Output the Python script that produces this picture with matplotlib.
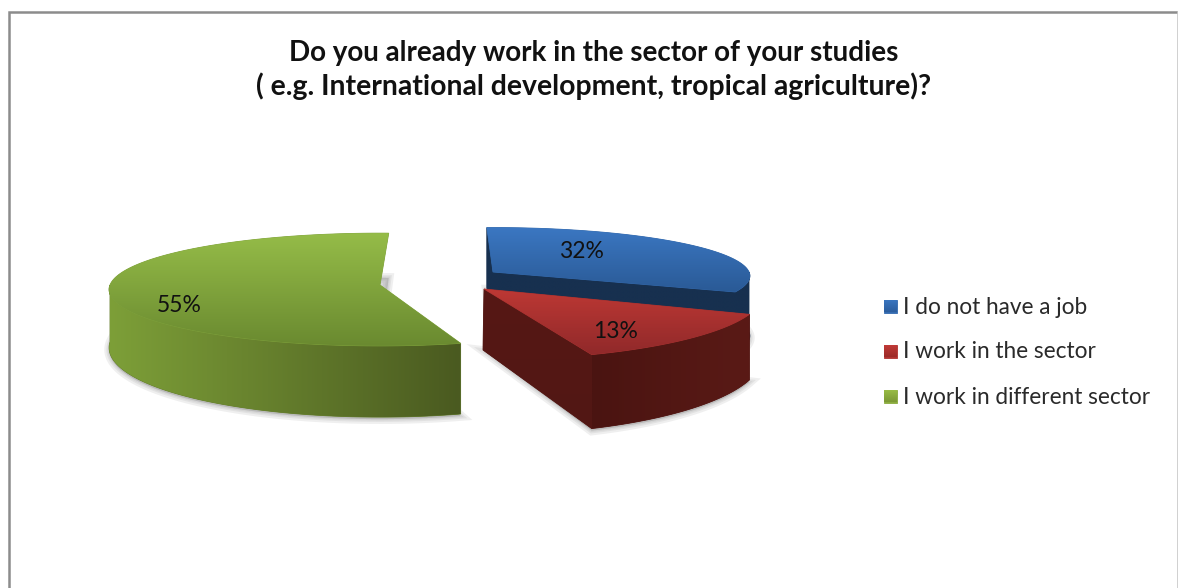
import numpy as np
import matplotlib
matplotlib.use('Agg')
import matplotlib.pyplot as plt
from matplotlib.colors import LinearSegmentedColormap, to_rgb
from matplotlib.patches import Polygon

title_lines = ['Do you already work in the sector of your studies',
               '( e.g. International development, tropical agriculture)?']
categories = ['I do not have a job', 'I work in the sector', 'I work in different sector']
values = [32, 13, 55]

plt.rcParams['font.family'] = ['Lato', 'DejaVu Sans']

# pie drawing settings, one entry per slice
apex = [(493, 272), (484, 289), (380, 285)]
spin = [-1.5, -3, 2]
rx = [256, 278, 270]
ry = [48, 65, 56]
depth = [60, 60, 57]
flare = [0.0, 0.25, 0.25]
perspective = 0.08

top_colors = [('#3b77c2', '#2a5a96'), ('#bd3834', '#90292a'), ('#95bc48', '#6a8a30')]
wall_colors = [('#17304f', '#17304f'), ('#4a1411', '#5a1a16'), ('#7d9f38', '#4a5a20')]
swatch_colors = [('#3b77c2', '#2c5e9e'), ('#c43b38', '#9c2b29'), ('#9bbf46', '#7b9835')]
label_pos = [(581, 252), (616, 331), (179, 305)]
legend_y = [307, 352, 397]

fig = plt.figure(figsize=(11.78, 5.88), dpi=100)
ax = fig.add_axes([0, 0, 1, 1])


def rim(i, a0, a1):
    t = np.radians(np.linspace(a0, a1, 160))
    s = 1 / (1 + perspective * np.cos(t))
    x = apex[i][0] + rx[i] * np.sin(t) * s
    y = apex[i][1] - ry[i] * np.cos(t) * s
    low = y + depth[i] * (1 - flare[i] * np.cos(t))
    return x, y, low


def fill(points, colors, zorder, vertical=True):
    points = np.asarray(points)
    # solid base closes the hairline seams between neighbouring faces
    base = np.mean([to_rgb(c) for c in colors], axis=0)
    ax.add_patch(Polygon(points, closed=True, fc=base, ec=base, lw=0.6, zorder=zorder))
    poly = Polygon(points, closed=True, fc='none', ec='none', zorder=zorder)
    ax.add_patch(poly)
    cmap = LinearSegmentedColormap.from_list('ramp', colors)
    ramp = np.linspace(0, 1, 128)
    ramp = ramp.reshape(-1, 1) if vertical else ramp.reshape(1, -1)
    x0, x1 = points[:, 0].min(), points[:, 0].max()
    y0, y1 = points[:, 1].min(), points[:, 1].max()
    im = ax.imshow(ramp, extent=[x0, x1, y1, y0], cmap=cmap, aspect='auto',
                   interpolation='bilinear', zorder=zorder)
    im.set_clip_path(poly)


# slice angles run clockwise from 12 o'clock
sweeps = np.array(values) / sum(values) * 360
starts = np.concatenate([[0], np.cumsum(sweeps)[:-1]])

# soft shadow under each slice
for i in [2, 0, 1]:
    a0 = starts[i] + spin[i]
    a1 = a0 + sweeps[i]
    x, y, low = rim(i, a0, a1)
    foot = np.column_stack([np.r_[apex[i][0], x], np.r_[apex[i][1] + depth[i], low] + 2])
    for lw in (7, 4, 2):
        ax.add_patch(Polygon(foot, closed=True, fc='#808080', ec='#808080', lw=lw,
                             alpha=0.12, zorder=1))

# draw order is back to front: green, blue, red
z = 2
for i in [2, 0, 1]:
    a0 = starts[i] + spin[i]
    a1 = a0 + sweeps[i]
    x, y, low = rim(i, a0, a1)
    ax_, ay_ = apex[i]
    d = depth[i]

    # only the front half of the outer wall can be seen
    xw, yw, lw_ = rim(i, max(a0, 90), min(a1, 270))
    wall = np.column_stack([np.r_[xw, xw[::-1]], np.r_[yw, lw_[::-1]]])
    fill(wall, wall_colors[i], z, vertical=False)
    z += 1

    if i == 0:
        # blue shows both cut faces
        for k in (0, -1):
            cut = [(ax_, ay_), (x[k], y[k]), (x[k], low[k]), (ax_, ay_ + d)]
            fill(cut, wall_colors[i], z)
            z += 1
    if i == 1:
        cut = [(ax_, ay_), (x[-1], y[-1]), (x[-1], low[-1]), (ax_ - 1, ay_ + d + 1)]
        fill(cut, ('#561815', '#521714'), z)
        z += 1

    top = np.column_stack([np.r_[ax_, x], np.r_[ay_, y]])
    fill(top, top_colors[i], z)
    z += 1

for i, v in enumerate(values):
    ax.text(label_pos[i][0], label_pos[i][1], f'{v}%', fontsize=16.5, color='#111111',
            ha='center', va='center', zorder=50)

# legend
for i, name in enumerate(categories):
    yc = legend_y[i] - 1
    fill([(884, yc - 6.5), (897, yc - 6.5), (897, yc + 6.5), (884, yc + 6.5)],
         swatch_colors[i], 40)
    ax.text(903, legend_y[i], name, fontsize=16.3, color='#2a2a2a', ha='left', va='center', zorder=50)

ax.text(594, 53, title_lines[0], fontsize=20, fontweight='bold', color='#111111',
        ha='center', va='center', zorder=50)
ax.text(594, 86, title_lines[1], fontsize=20.4, fontweight='bold', color='#111111',
        ha='center', va='center', zorder=50)

# chart frame, open at the bottom
ax.plot([9, 9, 1177], [588, 11.5, 11.5], color='#8c8c8c', lw=1.8, zorder=60, solid_joinstyle='miter')
ax.plot([1177.5, 1177.5], [11.5, 588], color='#c8c8c8', lw=1.2, zorder=60)

ax.set_xlim(0, 1178)
ax.set_ylim(588, 0)
ax.axis('off')
fig.savefig('out.png', dpi=100, facecolor='white')
